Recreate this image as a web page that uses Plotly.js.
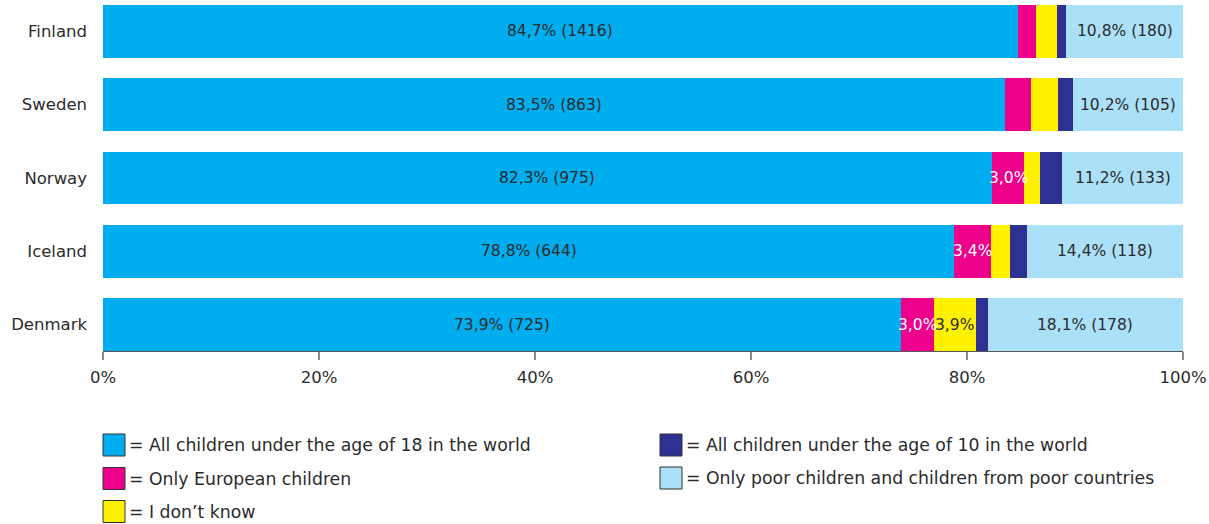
<!DOCTYPE html>
<html>
<head>
<meta charset="utf-8">
<script src="https://cdn.plot.ly/plotly-3.0.1.min.js"></script>
<style>html,body{margin:0;padding:0;background:#fff;}#chart{width:1209px;height:524px;}</style>
</head>
<body>
<div id="chart"></div>
<script>
// Countries, top to bottom
const countries = ['Finland', 'Sweden', 'Norway', 'Iceland', 'Denmark'];

// Shares (%) per answer
const allUnder18 = [84.7, 83.5, 82.3, 78.8, 73.9];
const onlyEuropean = [1.7, 2.4, 3.0, 3.4, 3.0];
const dontKnow = [1.9, 2.5, 1.5, 1.8, 3.9];
const allUnder10 = [0.9, 1.4, 2.0, 1.6, 1.1];
const onlyPoor = [10.8, 10.2, 11.2, 14.4, 18.1];

// Respondent counts shown in labels
const allUnder18Count = [1416, 863, 975, 644, 725];
const onlyPoorCount = [180, 105, 133, 118, 178];

// Which small segments carry a label
const onlyEuropeanLabelled = [false, false, true, true, true];
const dontKnowLabelled = [false, false, false, false, true];

const seriesNames = [
  'All children under the age of 18 in the world',
  'Only European children',
  'I don\u2019t know',
  'All children under the age of 10 in the world',
  'Only poor children and children from poor countries'
];

const colors = ['#00adee', '#ec008c', '#fff200', '#2e3192', '#abe0f9'];

const pct = v => v.toFixed(1).replace('.', ',') + '%';
const FONT = 'DejaVu Sans, Liberation Sans, Arial, sans-serif';
const TXT = '#2b2b2b';

const series = [allUnder18, onlyEuropean, dontKnow, allUnder10, onlyPoor];
const labels = [
  allUnder18.map((v, i) => pct(v) + ' (' + allUnder18Count[i] + ')'),
  onlyEuropean.map((v, i) => onlyEuropeanLabelled[i] ? pct(v) : ''),
  dontKnow.map((v, i) => dontKnowLabelled[i] ? pct(v) : ''),
  allUnder10.map(() => ''),
  onlyPoor.map((v, i) => pct(v) + ' (' + onlyPoorCount[i] + ')')
];
const labelColors = [TXT, '#ffffff', TXT, '#ffffff', TXT];

const traces = series.map((vals, k) => ({
  type: 'bar', orientation: 'h',
  y: countries, x: vals, name: seriesNames[k],
  marker: {color: colors[k], line: {width: 0}},
  hoverinfo: 'skip'
}));

const annotations = [];
// Segment labels centred on each segment (positions from the data via the x axis)
countries.forEach((c, i) => {
  let start = 0;
  series.forEach((vals, k) => {
    const v = vals[i];
    if (labels[k][i]) {
      annotations.push({xref: 'x', yref: 'y', x: start + v / 2, y: c,
        xanchor: 'center', yanchor: 'middle', showarrow: false,
        text: labels[k][i],
        font: {family: FONT, size: 15.5, color: labelColors[k]}});
    }
    start += v;
  });
});

// Manual legend (two columns)
const W = 1209, H = 524, L = 103, R = 26, T = 5, B = 173;
const pw = W - L - R, ph = H - T - B;
const px = x => (x - L) / pw;
const py = y => (H - B - y) / ph;
const legendPos = [
  [103, 445], [103, 478.5], [103, 511.5], [660, 445], [660, 478]
];
const shapes = [];
seriesNames.forEach((n, i) => {
  const [lx, ly] = legendPos[i];
  shapes.push({type: 'rect', xref: 'paper', yref: 'paper',
    x0: px(lx), x1: px(lx + 22), y0: py(ly + 11), y1: py(ly - 11),
    fillcolor: colors[i], line: {color: '#333333', width: 1}});
  annotations.push({xref: 'paper', yref: 'paper', x: px(lx + 24), y: py(ly),
    xanchor: 'left', yanchor: 'middle', showarrow: false,
    text: '= ' + n, font: {family: FONT, size: 17.3, color: TXT}});
});

const layout = {
  width: W, height: H,
  margin: {l: L, r: R, t: T, b: B},
  paper_bgcolor: '#ffffff', plot_bgcolor: '#ffffff',
  barmode: 'stack', bargap: 0.28,
  showlegend: false,
  font: {family: FONT, size: 16, color: TXT},
  xaxis: {
    range: [0, 100], dtick: 20, ticksuffix: '%',
    showgrid: false, zeroline: false,
    showline: true, linecolor: '#555555', linewidth: 1,
    ticks: 'outside', ticklen: 8, tickcolor: '#888888', tickwidth: 1.5,
    ticklabelstandoff: 3,
    tickfont: {family: FONT, size: 16.5, color: TXT}
  },
  yaxis: {
    type: 'category', categoryorder: 'array', categoryarray: countries,
    range: [4.36, -0.36],
    showgrid: false, zeroline: false, showline: false, ticks: '',
    ticklabelstandoff: 15,
    tickfont: {family: FONT, size: 16.5, color: TXT}
  },
  shapes: shapes,
  annotations: annotations
};

Plotly.newPlot('chart', traces, layout, {displayModeBar: false, staticPlot: true});
</script>
</body>
</html>
